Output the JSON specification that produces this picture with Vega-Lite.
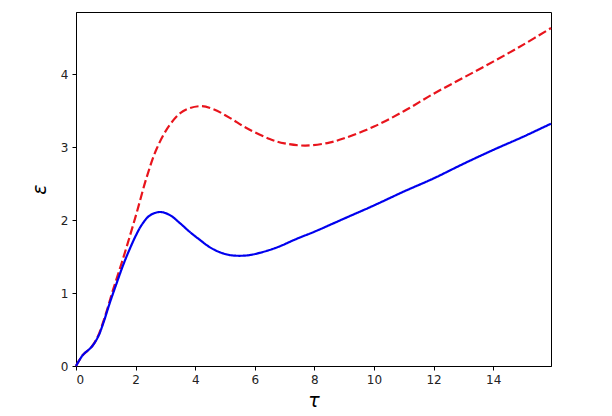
{
  "$schema": "https://vega.github.io/schema/vega-lite/v6.json",
  "width": 475,
  "height": 354,
  "autosize": {"type": "none"},
  "padding": {"left": 76, "top": 12, "right": 61, "bottom": 50},
  "background": "white",
  "config": {
    "view": {"stroke": "black", "strokeWidth": 1},
    "font": "DejaVu Sans",
    "axis": {
      "grid": false,
      "domainColor": "black",
      "tickColor": "black",
      "tickSize": 4,
      "labelColor": "#222",
      "labelFontSize": 12,
      "labelFont": "DejaVu Sans",
      "titleFont": "DejaVu Sans",
      "titleFontWeight": "normal",
      "titleFontStyle": "italic",
      "titleFontSize": 19,
      "titleColor": "black",
      "labelPadding": 4
    }
  },
  "datasets": {
    "curves": [
      {"tau": 0.0, "eps": 0.0, "s": "dashed"},
      {"tau": 0.23, "eps": 0.15, "s": "dashed"},
      {"tau": 0.52, "eps": 0.26, "s": "dashed"},
      {"tau": 0.74, "eps": 0.41, "s": "dashed"},
      {"tau": 0.91, "eps": 0.6, "s": "dashed"},
      {"tau": 1.08, "eps": 0.82, "s": "dashed"},
      {"tau": 1.24, "eps": 1.04, "s": "dashed"},
      {"tau": 1.47, "eps": 1.33, "s": "dashed"},
      {"tau": 1.69, "eps": 1.62, "s": "dashed"},
      {"tau": 2.03, "eps": 2.09, "s": "dashed"},
      {"tau": 2.36, "eps": 2.57, "s": "dashed"},
      {"tau": 2.7, "eps": 2.97, "s": "dashed"},
      {"tau": 3.14, "eps": 3.3, "s": "dashed"},
      {"tau": 3.59, "eps": 3.49, "s": "dashed"},
      {"tau": 4.15, "eps": 3.56, "s": "dashed"},
      {"tau": 4.6, "eps": 3.52, "s": "dashed"},
      {"tau": 5.16, "eps": 3.4, "s": "dashed"},
      {"tau": 5.72, "eps": 3.26, "s": "dashed"},
      {"tau": 6.5, "eps": 3.11, "s": "dashed"},
      {"tau": 7.0, "eps": 3.05, "s": "dashed"},
      {"tau": 7.7, "eps": 3.02, "s": "dashed"},
      {"tau": 8.5, "eps": 3.06, "s": "dashed"},
      {"tau": 9.0, "eps": 3.12, "s": "dashed"},
      {"tau": 10.0, "eps": 3.28, "s": "dashed"},
      {"tau": 11.0, "eps": 3.49, "s": "dashed"},
      {"tau": 12.0, "eps": 3.73, "s": "dashed"},
      {"tau": 13.0, "eps": 3.95, "s": "dashed"},
      {"tau": 14.0, "eps": 4.17, "s": "dashed"},
      {"tau": 15.0, "eps": 4.4, "s": "dashed"},
      {"tau": 15.94, "eps": 4.63, "s": "dashed"},
      {"tau": 0.0, "eps": 0.0, "s": "solid"},
      {"tau": 0.23, "eps": 0.15, "s": "solid"},
      {"tau": 0.52, "eps": 0.26, "s": "solid"},
      {"tau": 0.74, "eps": 0.4, "s": "solid"},
      {"tau": 0.91, "eps": 0.58, "s": "solid"},
      {"tau": 1.13, "eps": 0.86, "s": "solid"},
      {"tau": 1.36, "eps": 1.13, "s": "solid"},
      {"tau": 1.58, "eps": 1.38, "s": "solid"},
      {"tau": 1.8, "eps": 1.6, "s": "solid"},
      {"tau": 2.0, "eps": 1.78, "s": "solid"},
      {"tau": 2.2, "eps": 1.93, "s": "solid"},
      {"tau": 2.47, "eps": 2.06, "s": "solid"},
      {"tau": 2.81, "eps": 2.11, "s": "solid"},
      {"tau": 3.14, "eps": 2.07, "s": "solid"},
      {"tau": 3.48, "eps": 1.96, "s": "solid"},
      {"tau": 3.81, "eps": 1.84, "s": "solid"},
      {"tau": 4.15, "eps": 1.73, "s": "solid"},
      {"tau": 4.48, "eps": 1.63, "s": "solid"},
      {"tau": 4.82, "eps": 1.56, "s": "solid"},
      {"tau": 5.16, "eps": 1.52, "s": "solid"},
      {"tau": 5.49, "eps": 1.51, "s": "solid"},
      {"tau": 5.83, "eps": 1.52, "s": "solid"},
      {"tau": 6.16, "eps": 1.55, "s": "solid"},
      {"tau": 6.5, "eps": 1.59, "s": "solid"},
      {"tau": 6.84, "eps": 1.64, "s": "solid"},
      {"tau": 7.17, "eps": 1.7, "s": "solid"},
      {"tau": 7.51, "eps": 1.76, "s": "solid"},
      {"tau": 8.0, "eps": 1.84, "s": "solid"},
      {"tau": 9.0, "eps": 2.02, "s": "solid"},
      {"tau": 10.0, "eps": 2.2, "s": "solid"},
      {"tau": 11.0, "eps": 2.39, "s": "solid"},
      {"tau": 12.0, "eps": 2.57, "s": "solid"},
      {"tau": 13.0, "eps": 2.77, "s": "solid"},
      {"tau": 14.0, "eps": 2.96, "s": "solid"},
      {"tau": 15.0, "eps": 3.14, "s": "solid"},
      {"tau": 15.94, "eps": 3.32, "s": "solid"}
    ]
  },
  "data": {"name": "curves"},
  "mark": {"type": "line", "interpolate": "catmull-rom", "strokeWidth": 2.2},
  "encoding": {
    "x": {
      "field": "tau", "type": "quantitative",
      "scale": {"domain": [0, 15.94], "nice": false, "zero": false},
      "axis": {"values": [0, 2, 4, 6, 8, 10, 12, 14], "title": "τ", "titlePadding": 6}
    },
    "y": {
      "field": "eps", "type": "quantitative",
      "scale": {"domain": [0, 4.85], "nice": false},
      "axis": {"values": [0, 1, 2, 3, 4], "title": "ε", "titlePadding": 11}
    },
    "color": {
      "field": "s", "type": "nominal",
      "scale": {"domain": ["dashed", "solid"], "range": ["#e8141c", "#0000ee"]},
      "legend": null
    },
    "strokeDash": {
      "field": "s", "type": "nominal",
      "scale": {"domain": ["dashed", "solid"], "range": [[8.5, 3.5], [1, 0]]},
      "legend": null
    }
  }
}
